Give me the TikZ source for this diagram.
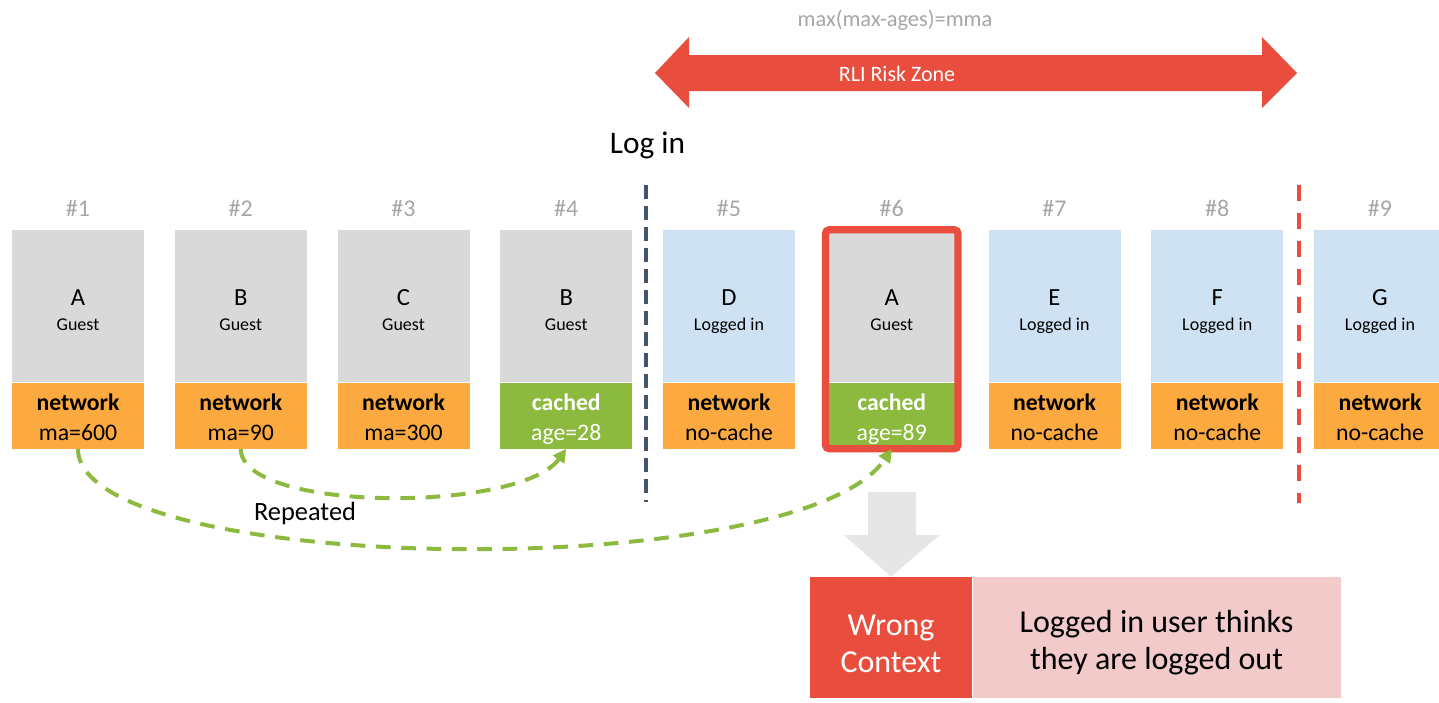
\documentclass[tikz,border=0pt]{standalone}
\usepackage{fontspec}
\setmainfont{Carlito}
\usetikzlibrary{positioning,arrows.meta}

\definecolor{boxgray}{RGB}{217,217,217}
\definecolor{boxblue}{RGB}{207,226,243}
\definecolor{netorange}{RGB}{252,169,63}
\definecolor{hitgreen}{RGB}{139,186,63}
\definecolor{riskred}{RGB}{232,77,61}
\definecolor{softpink}{RGB}{242,202,202}
\definecolor{labelgray}{RGB}{166,166,166}
\definecolor{slate}{RGB}{68,84,106}
\definecolor{arrowgray}{RGB}{230,230,230}

\tikzset{
  page/.style={minimum width=99pt, minimum height=114pt, inner sep=0pt},
  status/.style={minimum width=99pt, minimum height=49.5pt, inner sep=0pt},
  guest/.style={fill=boxgray},
  member/.style={fill=boxblue},
  net/.style={fill=netorange},
  hit/.style={fill=hitgreen},
  net ink/.style={text=black},
  hit ink/.style={text=white},
  txt/.style={anchor=base, inner sep=0pt},
  hdr/.style={txt, text=labelgray, font=\fontsize{18}{21}\selectfont},
  letter/.style={txt, font=\fontsize{18.5}{22}\selectfont},
  who/.style={txt, font=\fontsize{13.5}{16}\selectfont},
  word/.style={txt, font=\fontsize{17.8}{21}\selectfont\bfseries},
  detail/.style={txt, font=\fontsize{17.8}{21}\selectfont},
  frame/.style={draw=riskred, line width=5.5pt, rounded corners=3pt},
  reuse/.style={draw=hitgreen, line width=3pt, dash pattern=on 11pt off 8pt,
    -{Triangle[length=10pt,width=10pt]}},
  outcome/.style={minimum height=90.75pt, inner sep=0pt, align=center,
    font=\fontsize{24}{27.75}\selectfont}
}

\begin{document}
\begin{tikzpicture}[x=0.75pt, y=-0.75pt]
  \useasboundingbox (0,0) rectangle (1439,703);
  \clip (0,0) rectangle (1439,703);

  % risk zone
  \fill[riskred] (655,73) -- (689,37) -- (689,55) -- (1262,55) -- (1262,37) -- (1297,73)
    -- (1262,108) -- (1262,91) -- (689,91) -- (689,108) -- cycle;
  \node[text=white, font=\fontsize{16.5}{20}\selectfont] (zone) at (897,74) {RLI Risk Zone};
  \node[text=labelgray, font=\fontsize{16.8}{20}\selectfont] (mma) at (895,20) {max(max-ages)=mma};

  % requests
  \foreach \i/\l/\u/\t/\b/\w/\v [evaluate=\i as \x using 78+162.75*(\i-1)] in {
      1/A/Guest/guest/net/network/ma=600,
      2/B/Guest/guest/net/network/ma=90,
      3/C/Guest/guest/net/network/ma=300,
      4/B/Guest/guest/hit/cached/age=28,
      5/D/Logged in/member/net/network/no-cache,
      6/A/Guest/guest/hit/cached/age=89,
      7/E/Logged in/member/net/network/no-cache,
      8/F/Logged in/member/net/network/no-cache,
      9/G/Logged in/member/net/network/no-cache} {
    \node[page, \t] (top\i) at (\x,306) {};
    \node[status, \b, below=0pt of top\i] (bot\i) {};
    \node[hdr] (num\i) at (\x,216.5) {\#\i};
    \node[letter] (res\i) at (\x,305.5) {\l};
    \node[who] (who\i) at (\x,330) {\u};
    \node[word, \b\space ink] (src\i) at (\x,410) {\w};
    \node[detail, \b\space ink] (age\i) at (\x,440) {\v};
  }
  \draw[frame] (top6.north west) rectangle (bot6.south east);

  % log in / end of zone
  \coordinate (login top) at (646,185);
  \coordinate (login end) at (646,502);
  \coordinate (zone top) at (1299,185);
  \coordinate (zone end) at (1299,503);
  \draw[slate, line width=2.6pt, dash pattern=on 10.5pt off 5.25pt] (login top) -- (login end);
  \draw[riskred, line width=3pt, dash pattern=on 12pt off 9pt] (zone top) -- (zone end);
  \node[txt, font=\fontsize{23.5}{28}\selectfont] (login) at (647.5,153) {Log in};

  % cache hits
  \draw[reuse] (bot2.south) .. controls +(0,64) and +(-46,64) .. (bot4.south);
  \draw[reuse] (bot1.south) .. controls +(0,127) and +(-92,137) .. (bot6.south);
  \node[font=\fontsize{19.8}{24}\selectfont] (rep) at (305,513) {Repeated};

  % outcome
  \node[outcome, fill=riskred, text=white, minimum width=121.5pt] (wrong) at (891,637.5)
    {\rule{0pt}{25pt}Wrong\\Context};
  \node[outcome, fill=softpink, minimum width=276pt, right=0pt of wrong] (effect)
    {\rule{0pt}{25pt}Logged in user thinks\\they are logged out};
  \fill[arrowgray] (868,492) -- (916,492) -- (916,535) -- (940,535) -- (wrong.north)
    -- (844,535) -- (868,535) -- cycle;
\end{tikzpicture}
\end{document}
